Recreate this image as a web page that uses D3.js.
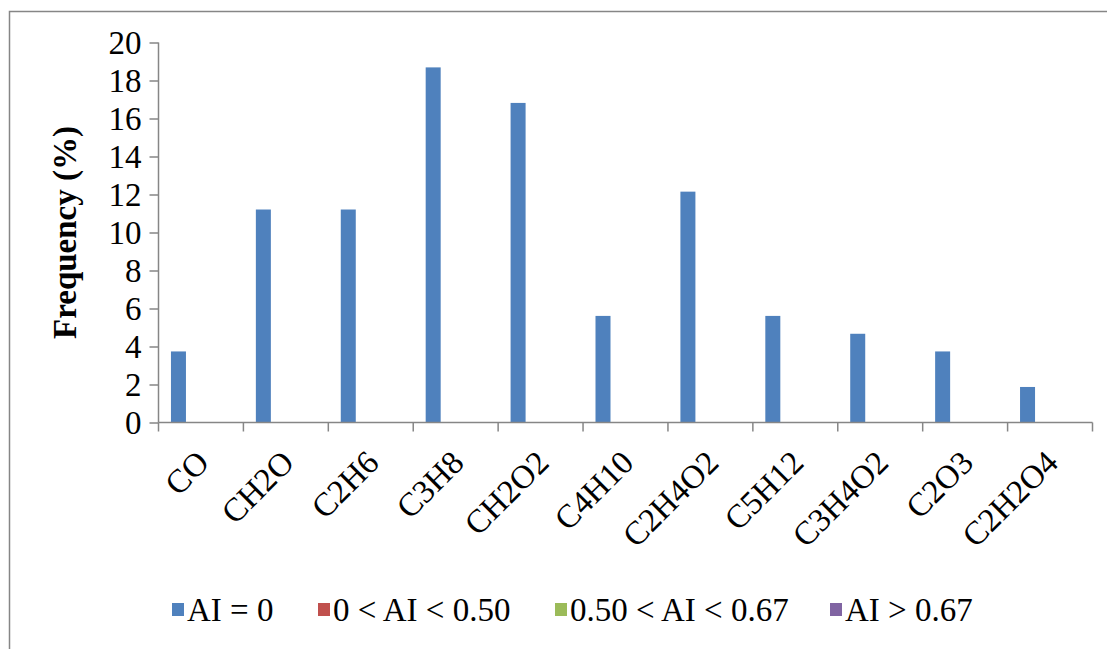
<!DOCTYPE html>
<html>
<head>
<meta charset="utf-8">
<script src="https://cdn.jsdelivr.net/npm/d3@7"></script>
<style>
  body { margin: 0; background: #fff; }
  svg text { font-family: "Liberation Serif", "Times New Roman", serif; fill: #000; }
</style>
</head>
<body>
<div id="chart"></div>
<script>
// categories and series, percent of formulas per class
const categories = ["CO", "CH2O", "C2H6", "C3H8", "CH2O2", "C4H10", "C2H4O2", "C5H12", "C3H4O2", "C2O3", "C2H2O4"];
const seriesNames = ["AI = 0", "0 < AI < 0.50", "0.50 < AI < 0.67", "AI > 0.67"];
const seriesColors = ["#4F81BD", "#C0504D", "#9BBB59", "#8064A2"];
const aiZero = [3.74, 11.21, 11.21, 18.69, 16.82, 5.61, 12.15, 5.61, 4.67, 3.74, 1.87];
const aiLow = [0, 0, 0, 0, 0, 0, 0, 0, 0, 0, 0];
const aiMid = [0, 0, 0, 0, 0, 0, 0, 0, 0, 0, 0];
const aiHigh = [0, 0, 0, 0, 0, 0, 0, 0, 0, 0, 0];
const yTicks = [0, 2, 4, 6, 8, 10, 12, 14, 16, 18, 20];

const seriesValues = [aiZero, aiLow, aiMid, aiHigh];

const width = 1107, height = 649;
const axisColor = "#868686";
const fontSize = "33px";

const svg = d3.select("#chart").append("svg")
    .attr("width", width)
    .attr("height", height);

// chart area border (right and bottom edges sit outside the picture)
svg.append("rect")
    .attr("x", 9.5).attr("y", 11.5)
    .attr("width", 1120).attr("height", 660)
    .attr("fill", "none")
    .attr("stroke", axisColor)
    .attr("stroke-width", 1.5);

const x0 = d3.scaleBand()
    .domain(categories)
    .range([158.5, 1092.5])
    .padding(0);

// inner band for the 4 series, outer padding gives the excel gap
const x1 = d3.scaleBand()
    .domain(seriesNames)
    .range([0, x0.bandwidth()])
    .paddingInner(0)
    .paddingOuter(0.83);

const y = d3.scaleLinear()
    .domain([0, 20])
    .range([422.5, 42.5]);

// bars
const rows = [];
categories.forEach((c, i) => {
    seriesNames.forEach((s, j) => {
        rows.push({cat: c, series: s, value: seriesValues[j][i], color: seriesColors[j]});
    });
});

svg.append("g").selectAll("rect")
    .data(rows.filter(d => d.value > 0))
    .enter().append("rect")
    .attr("x", d => x0(d.cat) + x1(d.series))
    .attr("y", d => y(d.value))
    .attr("width", x1.bandwidth())
    .attr("height", d => y(0) - y(d.value))
    .attr("fill", d => d.color);

// y axis
const yAxis = svg.append("g")
    .attr("transform", `translate(${x0.range()[0]},0)`)
    .call(d3.axisLeft(y).tickValues(yTicks).tickSize(9).tickPadding(8));
yAxis.selectAll("path, line").attr("stroke", axisColor).attr("stroke-width", 1.5);
yAxis.select(".domain").attr("d", `M0,${y(20)}V${y(0)}`);
yAxis.selectAll("text")
    .style("font-size", fontSize)
    .attr("dy", "0.34em")
    .attr("fill", "#000");

// x axis, ticks between categories
const xAxisG = svg.append("g").attr("transform", `translate(0,${y(0)})`);
xAxisG.append("line")
    .attr("x1", x0.range()[0]).attr("x2", x0.range()[1])
    .attr("stroke", axisColor).attr("stroke-width", 1.5);
const bounds = categories.map(c => x0(c)).concat([x0.range()[1]]);
xAxisG.selectAll(".tk")
    .data(bounds)
    .enter().append("line")
    .attr("x1", d => d).attr("x2", d => d)
    .attr("y1", 0).attr("y2", 9)
    .attr("stroke", axisColor).attr("stroke-width", 1.5);

xAxisG.selectAll(".lbl")
    .data(categories)
    .enter().append("text")
    .attr("text-anchor", "end")
    .attr("transform", d => `translate(${x0(d) + x0.bandwidth() / 2 + 10},${42}) rotate(-45)`)
    .style("font-size", fontSize)
    .text(d => d);

// y title
svg.append("text")
    .attr("transform", `translate(76,${(y(0) + y(20)) / 2}) rotate(-90)`)
    .attr("text-anchor", "middle")
    .style("font-size", fontSize)
    .style("font-weight", "bold")
    .text("Frequency (%)");

// legend
const legend = svg.append("g").attr("transform", "translate(0,610)");
const legendX = [172, 318, 555, 830];
const items = legend.selectAll("g")
    .data(seriesNames)
    .enter().append("g")
    .attr("transform", (d, i) => `translate(${legendX[i]},0)`);
items.append("rect")
    .attr("x", 0).attr("y", -7)
    .attr("width", 12).attr("height", 13)
    .attr("fill", (d, i) => seriesColors[i]);
items.append("text")
    .attr("x", 15)
    .attr("y", 11)
    .style("font-size", fontSize)
    .text(d => d);
</script>
</body>
</html>
